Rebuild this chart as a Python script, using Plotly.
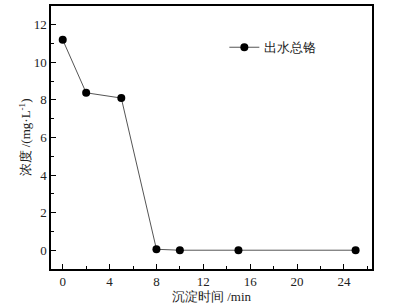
import plotly.graph_objects as go

time_min = [0, 2, 5, 8, 10, 15, 25]
total_cr = [11.2, 8.38, 8.1, 0.05, 0.0, 0.0, 0.0]
series_name = "出水总铬"
x_ticks = [0, 4, 8, 12, 16, 20, 24]
y_ticks = [0, 2, 4, 6, 8, 10, 12]

font_fam = "Liberation Serif"

fig = go.Figure()
fig.add_trace(go.Scatter(
    x=time_min, y=total_cr, mode="lines+markers", name=series_name,
    line=dict(color="#555555", width=1),
    marker=dict(color="black", size=8),
))

axis_common = dict(
    showline=True, linecolor="black", linewidth=1.5, mirror=True,
    ticks="inside", ticklen=5, tickcolor="black", showgrid=False, zeroline=False,
    tickfont=dict(size=13, color="#222", family=font_fam),
    minor=dict(ticks="inside", ticklen=3, tickcolor="black"),
)

fig.update_xaxes(range=[-1, 26.4], tickvals=x_ticks, minor_dtick=2,
                 title=dict(text="沉淀时间 /min", font=dict(size=13, family=font_fam, color="#222"), standoff=4),
                 **axis_common)
fig.update_yaxes(range=[-1, 13], tickvals=y_ticks, minor_dtick=1,
                 title=dict(text="浓度 /(mg·L<sup>-1</sup>)", font=dict(size=13, family=font_fam, color="#222"), standoff=0),
                 **axis_common)

fig.update_layout(
    width=393, height=308,
    margin=dict(l=51, r=21, t=4, b=39),
    plot_bgcolor="white", paper_bgcolor="white",
    font=dict(family=font_fam, color="#222"),
    showlegend=True,
    legend=dict(x=0.54, y=0.843, xanchor="left", yanchor="middle",
                bgcolor="rgba(0,0,0,0)", font=dict(size=13, family=font_fam, color="#222"),
                itemwidth=30),
)

fig.write_html("out.html", config={"displayModeBar": False},
               post_script="document.body.style.margin='0';document.body.style.padding='0';")
